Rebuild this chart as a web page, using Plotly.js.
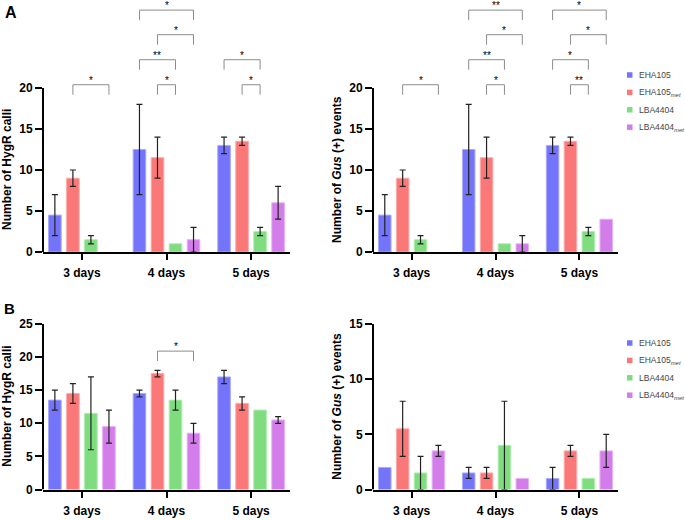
<!DOCTYPE html>
<html>
<head>
<meta charset="utf-8">
<script src="https://cdn.plot.ly/plotly-3.0.1.min.js"></script>
<style>html,body{margin:0;padding:0;background:#fff}#chart{width:685px;height:520px}</style>
</head>
<body>
<div id="chart"></div>
<script>
// ---------- DATA ----------
var days = ['3 days', '4 days', '5 days'];
var strains = ['EHA105', 'EHA105<sub><i>met</i></sub>', 'LBA4404', 'LBA4404<sub><i>met</i></sub>'];

// Panel A - HygR calli (mean per strain, per day)
var aHygEHA     = [4.5, 12.5, 13];
var aHygEHAmet  = [9, 11.5, 13.5];
var aHygLBA     = [1.5, 1, 2.5];
var aHygLBAmet  = [0, 1.5, 6];
var aHygEHAerr    = [2.5, 5.5, 1];
var aHygEHAmetErr = [1, 2.5, 0.5];
var aHygLBAerr    = [0.5, null, 0.5];
var aHygLBAmetErr = [null, 1.5, 2];

// Panel A - Gus(+) events
var aGusEHA     = [4.5, 12.5, 13];
var aGusEHAmet  = [9, 11.5, 13.5];
var aGusLBA     = [1.5, 1, 2.5];
var aGusLBAmet  = [0, 1, 4];
var aGusEHAerr    = [2.5, 5.5, 1];
var aGusEHAmetErr = [1, 2.5, 0.5];
var aGusLBAerr    = [0.5, null, 0.5];
var aGusLBAmetErr = [null, 1, null];

// Panel B - HygR calli
var bHygEHA     = [13.5, 14.5, 17];
var bHygEHAmet  = [14.5, 17.5, 13];
var bHygLBA     = [11.5, 13.5, 12];
var bHygLBAmet  = [9.5, 8.5, 10.5];
var bHygEHAerr    = [1.5, 0.5, 1];
var bHygEHAmetErr = [1.5, 0.5, 1];
var bHygLBAerr    = [5.5, 1.5, null];
var bHygLBAmetErr = [2.5, 1.5, 0.5];

// Panel B - Gus(+) events
var bGusEHA     = [2, 1.5, 1];
var bGusEHAmet  = [5.5, 1.5, 3.5];
var bGusLBA     = [1.5, 4, 1];
var bGusLBAmet  = [3.5, 1, 3.5];
var bGusEHAerr    = [null, 0.5, 1];
var bGusEHAmetErr = [2.5, 0.5, 0.5];
var bGusLBAerr    = [1.5, 4, null];
var bGusLBAmetErr = [0.5, null, 1.5];

// Significance comparisons: [dayIndex, strainIndexA, strainIndexB, bracketLevel, label]
var sigAHyg = [
  [0, 1, 3, 0, '*'],
  [1, 1, 2, 0, '*'], [1, 0, 2, 1, '**'], [1, 1, 3, 2, '*'], [1, 0, 3, 3, '*'],
  [2, 1, 2, 0, '*'], [2, 0, 2, 1, '*']
];
var sigAGus = [
  [0, 1, 3, 0, '*'],
  [1, 1, 2, 0, '*'], [1, 0, 2, 1, '**'], [1, 1, 3, 2, '*'], [1, 0, 3, 3, '**'],
  [2, 1, 2, 0, '**'], [2, 0, 2, 1, '*'], [2, 1, 3, 2, '*'], [2, 0, 3, 3, '*']
];
var sigBHyg = [
  [1, 1, 3, 0, '*']
];
var sigBGus = [];

// Bracket heights (data units) per level
var levelsA = [20.4, 23.45, 26.5, 29.5];
var levelsB = [20.9];

var yTicksA = [0, 5, 10, 15, 20];
var yTicksBHyg = [0, 5, 10, 15, 20, 25];
var yTicksBGus = [0, 5, 10, 15];

var titleHyg = 'Number of HygR calli';
var titleGus = 'Number of <i>Gus</i> (+) events';

// ---------- STYLE ----------
var colors = ['#7474fb', '#fb7878', '#7fdc7f', '#d37dea'];
var edgeColors = ['#a9a9ff', '#ffaaaa', '#aeeeae', '#e6b0f5'];
var BARGAP = 0.148;
var FONT = 'Liberation Sans, Arial, Helvetica, sans-serif';

function noNull(a) { return a.map(function (v) { return v === null ? NaN : v; }); }

var traces = [];
function addPanel(xa, ya, vals, errs) {
  for (var i = 0; i < 4; i++) {
    traces.push({
      type: 'bar', x: days, y: vals[i], xaxis: xa, yaxis: ya,
      name: strains[i], showlegend: false,
      marker: {color: colors[i], line: {color: edgeColors[i],
        width: vals[i].map(function (v) { return v > 0 ? 1 : 0; })}},
      error_y: {type: 'data', array: noNull(errs[i]), visible: true, color: '#222', thickness: 1.2, width: 3},
      hoverinfo: 'y'
    });
  }
}
addPanel('x', 'y', [aHygEHA, aHygEHAmet, aHygLBA, aHygLBAmet], [aHygEHAerr, aHygEHAmetErr, aHygLBAerr, aHygLBAmetErr]);
addPanel('x2', 'y2', [aGusEHA, aGusEHAmet, aGusLBA, aGusLBAmet], [aGusEHAerr, aGusEHAmetErr, aGusLBAerr, aGusLBAmetErr]);
addPanel('x3', 'y3', [bHygEHA, bHygEHAmet, bHygLBA, bHygLBAmet], [bHygEHAerr, bHygEHAmetErr, bHygLBAerr, bHygLBAmetErr]);
addPanel('x4', 'y4', [bGusEHA, bGusEHAmet, bGusLBA, bGusLBAmet], [bGusEHAerr, bGusEHAmetErr, bGusLBAerr, bGusLBAmetErr]);

var shapes = [];
var annotations = [];
var step = (1 - BARGAP) / 4;
function barPos(day, s) { return day + (s - 1.5) * step; }
function addBrackets(xa, ya, sigs, levels, drop) {
  sigs.forEach(function (s) {
    var x1 = barPos(s[0], s[1]), x2 = barPos(s[0], s[2]), h = levels[s[3]];
    var ln = {color: '#8c8c8c', width: 1};
    shapes.push({type: 'line', xref: xa, yref: ya, x0: x1, x1: x2, y0: h, y1: h, line: ln});
    shapes.push({type: 'line', xref: xa, yref: ya, x0: x1, x1: x1, y0: h, y1: h - drop, line: ln});
    shapes.push({type: 'line', xref: xa, yref: ya, x0: x2, x1: x2, y0: h, y1: h - drop, line: ln});
    annotations.push({xref: xa, yref: ya, x: (x1 + x2) / 2, y: h, text: s[4], showarrow: false,
      yanchor: 'bottom', yshift: -3, font: {family: FONT, size: 10, color: '#000'}});
  });
}
addBrackets('x', 'y', sigAHyg, levelsA, 1.22);
addBrackets('x2', 'y2', sigAGus, levelsA, 1.22);
addBrackets('x3', 'y3', sigBHyg, levelsB, 1.5);
addBrackets('x4', 'y4', sigBGus, levelsB, 1.5);

// y axis lines up to the top tick, and y titles centred on the tick span
function yDecor(xa, ya, ticks, title, titleX) {
  var top = ticks[ticks.length - 1];
  shapes.push({type: 'line', xref: xa + ' domain', yref: ya, x0: 0, x1: 0, y0: 0, y1: top,
    line: {color: '#000', width: 2}});
  annotations.push({xref: 'paper', yref: ya, x: titleX, y: top / 2, textangle: -90,
    xanchor: 'center', yanchor: 'middle', showarrow: false, text: '<b>' + title + '</b>',
    font: {family: FONT, size: 12, color: '#000'}});
}
yDecor('x', 'y', yTicksA, titleHyg, 7 / 685);
yDecor('x2', 'y2', yTicksA, titleGus, 337 / 685);
yDecor('x3', 'y3', yTicksBHyg, titleHyg, 7 / 685);
yDecor('x4', 'y4', yTicksBGus, titleGus, 337 / 685);

// legends (small squares + labels)
function legend(topPx) {
  var rowH = 17.4;
  for (var i = 0; i < 4; i++) {
    var cy = topPx + i * rowH;
    shapes.push({type: 'rect', xref: 'paper', yref: 'paper',
      x0: 627 / 685, x1: 632.5 / 685, y0: 1 - (cy - 2.75) / 520, y1: 1 - (cy + 2.75) / 520,
      fillcolor: colors[i], line: {width: 0}});
    annotations.push({xref: 'paper', yref: 'paper', x: 637 / 685, y: 1 - cy / 520,
      xanchor: 'left', yanchor: 'middle', showarrow: false, text: strains[i],
      font: {family: FONT, size: 8.5, color: '#444'}});
  }
}
legend(75);
legend(343);

// panel letters
annotations.push({xref: 'paper', yref: 'paper', x: 3 / 685, y: 1 - 2 / 520, xanchor: 'left', yanchor: 'top',
  text: '<b>A</b>', showarrow: false, font: {family: FONT, size: 16, color: '#000'}});
annotations.push({xref: 'paper', yref: 'paper', x: 2 / 685, y: 1 - 298 / 520, xanchor: 'left', yanchor: 'top',
  text: '<b>B</b>', showarrow: false, font: {family: FONT, size: 15, color: '#000'}});

var tickFont = {family: FONT, size: 12, color: '#000', weight: 'bold'};
function xAxis(dom, anchor) {
  return {domain: dom, anchor: anchor, type: 'category', range: [-0.46, 2.46],
    showline: true, linewidth: 2, linecolor: '#000', ticks: 'outside', ticklen: 6, tickwidth: 2,
    tickcolor: '#000', tickfont: tickFont, showgrid: false, zeroline: false,
    ticklabelstandoff: 3, automargin: false, fixedrange: true};
}
function yAxis(dom, anchor, range, ticks) {
  return {domain: dom, anchor: anchor, range: range, tickvals: ticks, ticktext: ticks.map(String),
    showline: false, ticks: 'outside', ticklen: 7, tickwidth: 2, tickcolor: '#000',
    tickfont: tickFont, showgrid: false, zeroline: false, automargin: false, fixedrange: true};
}
var xL = [43 / 685, 290 / 685], xR = [373 / 685, 618 / 685];
var yA = [1 - 252 / 520, 1 - 6 / 520];
var yBH = [1 - 489.5 / 520, 1 - 304.1 / 520];
var yBG = [1 - 489.5 / 520, 1 - 324 / 520];

var layout = {
  width: 685, height: 520, margin: {l: 0, r: 0, t: 0, b: 0},
  paper_bgcolor: '#fff', plot_bgcolor: '#fff',
  font: {family: FONT, color: '#000'},
  barmode: 'group', bargap: BARGAP, bargroupgap: 0.3,
  xaxis: xAxis(xL, 'y'), yaxis: yAxis(yA, 'x', [0, 30], yTicksA),
  xaxis2: xAxis(xR, 'y2'), yaxis2: yAxis(yA, 'x2', [0, 30], yTicksA),
  xaxis3: xAxis(xL, 'y3'), yaxis3: yAxis(yBH, 'x3', [0, 28], yTicksBHyg),
  xaxis4: xAxis(xR, 'y4'), yaxis4: yAxis(yBG, 'x4', [0, 15], yTicksBGus),
  shapes: shapes, annotations: annotations, showlegend: false
};

Plotly.newPlot('chart', traces, layout, {displayModeBar: false, staticPlot: true});
</script>
</body>
</html>
